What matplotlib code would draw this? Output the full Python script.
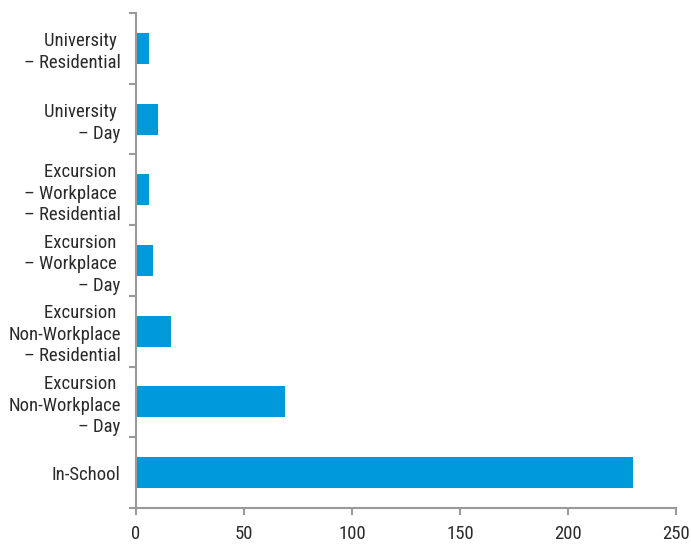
import matplotlib.pyplot as plt
import numpy as np

categories = ['In-School',
              'Excursion \nNon-Workplace\n– Day',
              'Excursion \nNon-Workplace\n– Residential',
              'Excursion \n– Workplace \n– Day',
              'Excursion \n– Workplace \n– Residential',
              'University \n– Day',
              'University \n– Residential']
values = [230, 69, 16, 8, 6, 10, 6]
xticks = [0, 50, 100, 150, 200, 250]

plt.rcParams['font.family'] = ['Roboto Condensed', 'Roboto', 'DejaVu Sans']

fig = plt.figure(figsize=(6.91, 5.45), dpi=100)
ax = fig.add_axes([0.1968, 0.068, 0.7815, 0.908])

y = np.arange(len(categories))
ax.barh(y, values, height=0.44, color='#009ADA')

ax.set_xlim(0, 250)
ax.set_ylim(-0.5, len(categories) - 0.5)
ax.set_xticks(xticks)
ax.set_xticklabels([str(t) for t in xticks], fontsize=13.5, color='#2a2a2a')
ax.set_yticks(y)
ax.set_yticklabels(categories, fontsize=13.5, color='#2a2a2a', linespacing=1.25)
ax.set_yticks(np.arange(-0.5, len(categories)), minor=True)

grey = '#9a9a9a'
for s in ['top', 'right']:
    ax.spines[s].set_visible(False)
for s in ['left', 'bottom']:
    ax.spines[s].set_color(grey)
    ax.spines[s].set_linewidth(1.5)

ax.tick_params(axis='y', which='major', length=0, pad=11)
ax.tick_params(axis='y', which='minor', length=5, width=1.5, color=grey)
ax.tick_params(axis='x', which='major', length=5, width=1.5, color=grey, pad=7)

fig.savefig('out.png', dpi=100)
